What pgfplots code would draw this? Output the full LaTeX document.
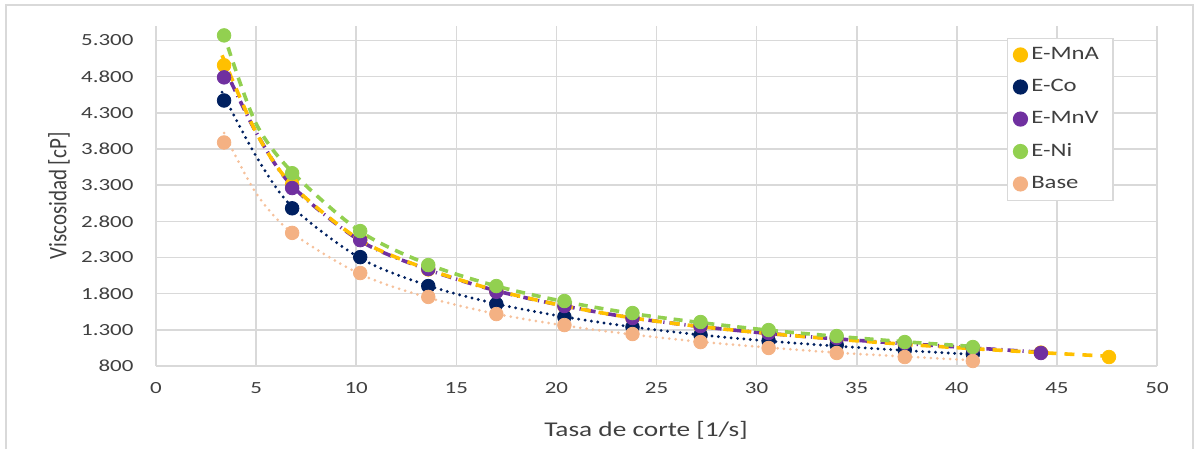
\documentclass[border=0pt]{standalone}
\usepackage{fontspec}
\setmainfont{Carlito}
\usepackage{graphicx}
\usepackage{pgfplots}
\pgfplotsset{compat=1.18}
\usepackage{pgfplotstable}
\definecolor{cMnA}{HTML}{FFC000}
\definecolor{cCo}{HTML}{002060}
\definecolor{cMnV}{HTML}{7030A0}
\definecolor{cNi}{HTML}{92D050}
\definecolor{cBase}{HTML}{F4B183}
\definecolor{cGrid}{HTML}{D9D9D9}
\definecolor{cTxt}{HTML}{404040}

\pgfplotstableread{
x y
3.4 4957
6.8 3310
10.2 2555
13.6 2135
17.0 1835
20.4 1625
23.8 1460
27.2 1345
30.6 1250
34.0 1175
37.4 1100
40.8 1040
44.2 985
47.6 924
}\dMnA
\pgfplotstableread{
x y
3.4 4470
6.8 2980
10.2 2305
13.6 1905
17.0 1656
20.4 1478
23.8 1338
27.2 1228
30.6 1145
34.0 1090
37.4 1021
40.8 966
}\dCo
\pgfplotstableread{
x y
3.4 4790
6.8 3260
10.2 2540
13.6 2140
17.0 1825
20.4 1629
23.8 1463
27.2 1352
30.6 1256
34.0 1187
37.4 1118
40.8 1049
44.2 980
}\dMnV
\pgfplotstableread{
x y
3.4 5370
6.8 3465
10.2 2665
13.6 2195
17.0 1905
20.4 1698
23.8 1532
27.2 1408
30.6 1297
34.0 1214
37.4 1131
40.8 1062
}\dNi
\pgfplotstableread{
x y
3.4 3890
6.8 2640
10.2 2085
13.6 1755
17.0 1518
20.4 1366
23.8 1242
27.2 1131
30.6 1049
34.0 980
37.4 924
40.8 869
}\dBase
% trend lines
\pgfplotstableread{
x y
3.3 5095
5.0 4030
6.8 3300
10.2 2540
13.6 2135
17.0 1845
20.4 1630
23.8 1465
27.2 1345
30.6 1250
34.0 1170
37.4 1100
40.8 1040
44.2 985
47.6 935
}\tMnA
\pgfplotstableread{
x y
3.3 4585
5.0 3700
6.8 3000
10.2 2290
13.6 1910
17.0 1660
20.4 1480
23.8 1340
27.2 1230
30.6 1145
34.0 1075
37.4 1015
40.8 960
}\tCo
\pgfplotstableread{
x y
3.3 4990
5.0 4030
6.8 3290
10.2 2530
13.6 2130
17.0 1840
20.4 1630
23.8 1465
27.2 1345
30.6 1250
34.0 1175
37.4 1110
40.8 1050
44.2 990
}\tMnV
\pgfplotstableread{
x y
3.6 5205
5.0 4150
6.8 3480
10.2 2660
13.6 2205
17.0 1905
20.4 1690
23.8 1525
27.2 1400
30.6 1295
34.0 1210
37.4 1135
40.8 1070
}\tNi
\pgfplotstableread{
x y
3.4 4020
5.0 3190
6.8 2640
10.2 2070
13.6 1745
17.0 1520
20.4 1360
23.8 1235
27.2 1135
30.6 1055
34.0 985
37.4 930
40.8 880
}\tBase

\begin{document}
\begin{tikzpicture}[x=0.5pt,y=0.5pt]
\useasboundingbox (0,0) rectangle (1197,449);
\draw[cGrid, line width=1pt] (6,0) -- (6,444) -- (1193,444) -- (1193,0);
\begin{axis}[
  at={(78pt,41.5pt)}, anchor=south west,
  scale only axis, width=500.5pt, height=170pt,
  xmin=0, xmax=50, ymin=800, ymax=5500,
  xtick={0,5,...,50},
  ytick={800,1300,1800,2300,2800,3300,3800,4300,4800,5300},
  /pgf/number format/assume math mode=true,
  /pgf/number format/1000 sep={.},
  /pgf/number format/fixed,
  grid=major,
  major grid style={cGrid, line width=0.8pt},
  axis line style={cGrid, line width=0.8pt},
  axis x line*=bottom, axis y line*=left,
  separate axis lines,
  x axis line style={-}, y axis line style={-},
  major tick length=0pt,
  tick style={draw=none},
  yticklabel style={font=\fontsize{8.5}{10}\selectfont, text=cTxt, anchor=east, inner sep=0pt, xshift=-11pt, xscale=1.35},
  xticklabel style={font=\fontsize{8.5}{10}\selectfont, text=cTxt, anchor=north, inner sep=0pt, yshift=-8pt, xscale=1.35},
  xlabel={Tasa de corte [1/s]},
  ylabel={Viscosidad [cP]},
  every axis x label/.style={at={(axis description cs:0.4895,-0.19)}, anchor=center, font=\fontsize{10.5}{12}\selectfont, text=cTxt, xscale=1.3},
  every axis y label/.style={at={(axis description cs:-0.097,0.5)}, anchor=center, rotate=90, font=\fontsize{10.5}{12}\selectfont, text=cTxt, yscale=1.2},
  legend style={at={(0.850,0.966)}, anchor=north west, draw=cGrid, line width=0.8pt,
    font=\fontsize{9.5}{11}\selectfont, text=cTxt, row sep=4.4pt, inner xsep=3pt, inner ysep=2.5pt,
    nodes={inner xsep=2pt, text width=36pt}},
  legend cell align=left,
  clip=false,
]
\addplot[only marks, mark=*, mark size=3.4pt, cMnA] table {\dMnA};
\addlegendentry{\scalebox{1.3}[1]{E-MnA}}
\addplot[only marks, mark=*, mark size=3.4pt, cCo] table {\dCo};
\addlegendentry{\scalebox{1.3}[1]{E-Co}}
\addplot[only marks, mark=*, mark size=3.4pt, cMnV] table {\dMnV};
\addlegendentry{\scalebox{1.3}[1]{E-MnV}}
\addplot[only marks, mark=*, mark size=3.4pt, cNi] table {\dNi};
\addlegendentry{\scalebox{1.3}[1]{E-Ni}}
\addplot[only marks, mark=*, mark size=3.4pt, cBase] table {\dBase};
\addlegendentry{\scalebox{1.3}[1]{Base}}

\addplot[forget plot, smooth, no marks, cMnV, line width=1.8pt, dash pattern=on 5pt off 2.5pt on 0.6pt off 2.5pt] table {\tMnV};
\addplot[forget plot, smooth, no marks, cMnA, line width=1.8pt, dash pattern=on 5pt off 4pt] table {\tMnA};
\addplot[forget plot, smooth, no marks, cCo, line width=1.6pt, line cap=round, dash pattern=on 0pt off 3.2pt] table {\tCo};
\addplot[forget plot, smooth, no marks, cNi, line width=1.8pt, dash pattern=on 4.5pt off 3.5pt] table {\tNi};
\addplot[forget plot, smooth, no marks, cBase!80!white, line width=1.5pt, line cap=round, dash pattern=on 0pt off 3.2pt] table {\tBase};
\end{axis}
\end{tikzpicture}
\end{document}
